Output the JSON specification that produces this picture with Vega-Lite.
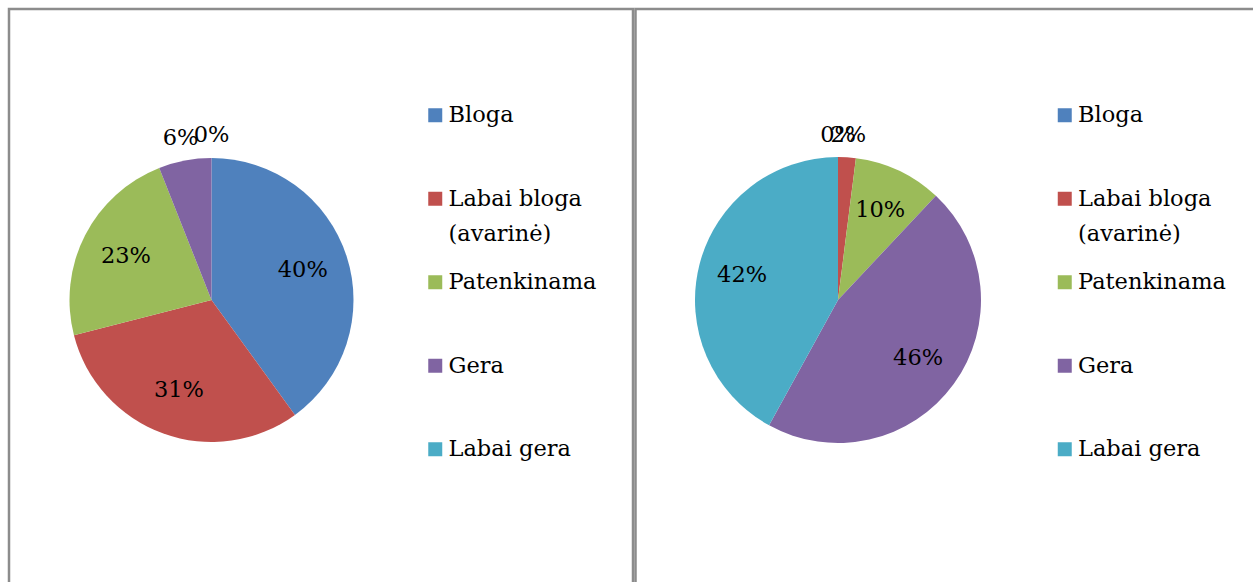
{
  "$schema": "https://vega.github.io/schema/vega-lite/v6.json",
  "padding": {"left": 7, "top": 7, "right": 0, "bottom": 0},
  "background": "white",
  "spacing": -1.5,
  "config": {
    "view": {"stroke": "#8c8c8c", "strokeWidth": 2.5},
    "concat": {"spacing": -1.5},
    "font": "DejaVu Serif",
    "style": {"guide-label": {"lineHeight": 35}}
  },
  "datasets": {
    "left": [
      {"k": 1, "stav": "Bloga", "share": 0.40},
      {"k": 2, "stav": "Labai bloga (avarinė)", "share": 0.31},
      {"k": 3, "stav": "Patenkinama", "share": 0.23},
      {"k": 4, "stav": "Gera", "share": 0.06},
      {"k": 5, "stav": "Labai gera", "share": 0.0}
    ],
    "right": [
      {"k": 1, "stav": "Bloga", "share": 0.0},
      {"k": 2, "stav": "Labai bloga (avarinė)", "share": 0.02},
      {"k": 3, "stav": "Patenkinama", "share": 0.10},
      {"k": 4, "stav": "Gera", "share": 0.46},
      {"k": 5, "stav": "Labai gera", "share": 0.42}
    ]
  },
  "hconcat": [
    {
      "width": 624,
      "height": 600,
      "view": {"stroke": "#8c8c8c", "strokeWidth": 2.5},
      "data": {"name": "left"},
      "encoding": {
        "theta": {"field": "share", "type": "quantitative", "stack": true},
        "order": {"field": "k", "type": "quantitative"}
      },
      "layer": [
        {
          "mark": {"type": "arc", "outerRadius": 142, "x": 202.5, "y": 291},
          "encoding": {
            "color": {
              "field": "stav",
              "type": "nominal",
              "sort": ["Bloga", "Labai bloga (avarinė)", "Patenkinama", "Gera", "Labai gera"],
              "scale": {
                "domain": ["Bloga", "Labai bloga (avarinė)", "Patenkinama", "Gera", "Labai gera"],
                "range": ["#4f81bd", "#c0504d", "#9bbb59", "#8064a2", "#4bacc6"]
              },
              "legend": {
                "orient": "none",
                "legendX": 415,
                "legendY": 95,
                "title": null,
                "padding": 0,
                "symbolType": "square",
                "symbolSize": 196,
                "symbolStrokeWidth": 0,
                "labelFont": "DejaVu Serif",
                "labelFontSize": 22.5,
                "labelColor": "#000000",
                "labelOffset": 2,
                "labelLimit": 300,
                "rowPadding": 25.5,
                "gridAlign": "all",
                "labelExpr": "datum.label == 'Labai bloga (avarinė)' ? ['Labai bloga', '(avarinė)'] : datum.label"
              }
            }
          }
        },
        {
          "mark": {
            "type": "text",
            "x": 202.5,
            "y": 291,
            "radius": {"expr": "datum.share < 0.07 ? 165 : 96"},
            "fontSize": 22.5,
            "font": "DejaVu Serif",
            "color": "#000000"
          },
          "encoding": {
            "detail": {"field": "stav", "type": "nominal"},
            "text": {"field": "share", "type": "quantitative", "format": ".0%"}
          }
        }
      ]
    },
    {
      "width": 624,
      "height": 600,
      "view": {"stroke": "#8c8c8c", "strokeWidth": 2.5},
      "data": {"name": "right"},
      "encoding": {
        "theta": {"field": "share", "type": "quantitative", "stack": true},
        "order": {"field": "k", "type": "quantitative"}
      },
      "layer": [
        {
          "mark": {"type": "arc", "outerRadius": 143, "x": 202.5, "y": 291},
          "encoding": {
            "color": {
              "field": "stav",
              "type": "nominal",
              "sort": ["Bloga", "Labai bloga (avarinė)", "Patenkinama", "Gera", "Labai gera"],
              "scale": {
                "domain": ["Bloga", "Labai bloga (avarinė)", "Patenkinama", "Gera", "Labai gera"],
                "range": ["#4f81bd", "#c0504d", "#9bbb59", "#8064a2", "#4bacc6"]
              },
              "legend": {
                "orient": "none",
                "legendX": 418,
                "legendY": 95,
                "title": null,
                "padding": 0,
                "symbolType": "square",
                "symbolSize": 196,
                "symbolStrokeWidth": 0,
                "labelFont": "DejaVu Serif",
                "labelFontSize": 22.5,
                "labelColor": "#000000",
                "labelOffset": 2,
                "labelLimit": 300,
                "rowPadding": 25.5,
                "gridAlign": "all",
                "labelExpr": "datum.label == 'Labai bloga (avarinė)' ? ['Labai bloga', '(avarinė)'] : datum.label"
              }
            }
          }
        },
        {
          "mark": {
            "type": "text",
            "x": 202.5,
            "y": 291,
            "radius": {"expr": "datum.share < 0.07 ? 165 : 99"},
            "fontSize": 22.5,
            "font": "DejaVu Serif",
            "color": "#000000"
          },
          "encoding": {
            "detail": {"field": "stav", "type": "nominal"},
            "text": {"field": "share", "type": "quantitative", "format": ".0%"}
          }
        }
      ]
    }
  ],
  "resolve": {"scale": {"color": "independent"}}
}
